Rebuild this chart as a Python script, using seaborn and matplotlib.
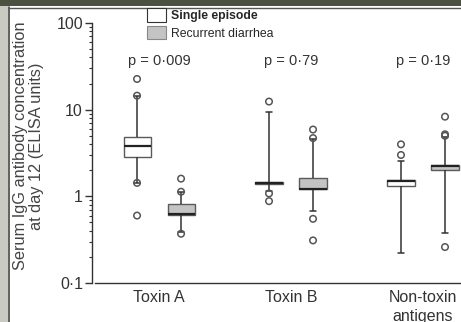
import numpy as np
import pandas as pd
import matplotlib
matplotlib.use("Agg")
import matplotlib.pyplot as plt
import matplotlib.ticker as mticker
from matplotlib.patches import Patch, Rectangle
from matplotlib.lines import Line2D
import seaborn as sns

# ---------------- data ----------------
categories = ["Toxin A", "Toxin B", "Non-toxin\nantigens"]
groups = ["Single episode", "Recurrent diarrhea"]
pvalues = ["p = 0·009", "p = 0·79", "p = 0·19"]

# five-number summaries per antigen: whisker low, Q1, median, Q3, whisker high
single_lo = [1.44, 1.15, 0.22]
single_q1 = [2.82, 1.37, 1.31]
single_med = [3.81, 1.41, 1.50]
single_q3 = [4.80, 1.45, 1.54]
single_hi = [14.3, 9.3, 2.58]

recur_lo = [0.385, 0.68, 0.38]
recur_q1 = [0.605, 1.20, 2.03]
recur_med = [0.63, 1.22, 2.22]
recur_q3 = [0.82, 1.63, 2.28]
recur_hi = [1.13, 4.6, 4.8]

# outliers per antigen
single_fliers = [[22.6, 14.5, 1.43, 0.60], [12.4, 1.08, 0.88], [3.98, 3.0]]
recur_fliers = [[1.60, 1.13, 0.37], [5.9, 4.7, 0.55, 0.31], [8.3, 5.2, 5.0, 0.26]]

yticks = [0.1, 1, 10, 100]
ytick_labels = ["0·1", "1", "10", "100"]

# ---------------- tables ----------------
rows = []
for grp, arrs in [(groups[0], (single_lo, single_q1, single_med, single_q3, single_hi)),
                  (groups[1], (recur_lo, recur_q1, recur_med, recur_q3, recur_hi))]:
    for i, cat in enumerate(categories):
        for arr in arrs:
            rows.append({"antigen": cat, "group": grp, "value": arr[i]})
df = pd.DataFrame(rows)

frows = []
for grp, fl in [(groups[0], single_fliers), (groups[1], recur_fliers)]:
    for i, cat in enumerate(categories):
        for v in fl[i]:
            frows.append({"antigen": cat, "group": grp, "value": v})
fdf = pd.DataFrame(frows)

# ---------------- style ----------------
sns.set_style("ticks")
plt.rcParams["font.family"] = ["Liberation Sans", "DejaVu Sans"]

W, H = 461, 322
fig = plt.figure(figsize=(W / 100, H / 100), dpi=100)
ax = fig.add_axes([92 / W, (H - 283) / H, (W - 92) / W, 260 / H])

BOX_W = 0.667
GAP = 0.385
EDGE = "#5a5a5a"
palette = {groups[0]: "white", groups[1]: "#c4c4c4"}

sns.boxplot(data=df, x="antigen", y="value", hue="group",
            order=categories, hue_order=groups, palette=palette,
            width=BOX_W, gap=GAP, whis=(0, 100), showfliers=False,
            saturation=1, linecolor=EDGE, linewidth=1.0, log_scale=True,
            medianprops=dict(color="#222222", linewidth=1.6),
            whiskerprops=dict(color="#333333", linewidth=1.1),
            capprops=dict(color="#333333", linewidth=1.1),
            capwidths=0.05, legend=False, ax=ax)

# outliers, placed at the dodged box positions
cat_idx = {c: i for i, c in enumerate(categories)}
offsets = {groups[0]: -BOX_W / 4, groups[1]: BOX_W / 4}
fdf["pos"] = [cat_idx[a] + offsets[g] for a, g in zip(fdf["antigen"], fdf["group"])]
sns.scatterplot(data=fdf, x="pos", y="value", marker="o", s=22,
                facecolor="none", edgecolor="#555555", linewidth=1.1,
                legend=False, ax=ax, zorder=5)

# ---------------- axes ----------------
ax.set_yscale("log")
ax.set_ylim(0.1, 100)
ax.set_xlim(-0.508, 2.288)
ax.set_xticks(range(len(categories)))
ax.set_xticklabels(categories, fontsize=11.5, color="#333333", linespacing=1.3)
ax.yaxis.set_major_locator(mticker.FixedLocator(yticks))
ax.yaxis.set_major_formatter(mticker.FixedFormatter(ytick_labels))
ax.yaxis.set_minor_locator(mticker.LogLocator(base=10, subs=np.arange(2, 10)))
ax.yaxis.set_minor_formatter(mticker.NullFormatter())
ax.tick_params(axis="y", which="major", length=5, width=1.0, pad=1.5,
               labelsize=11.5, colors="#333333")
ax.tick_params(axis="y", which="minor", length=2.5, width=0.8, colors="#333333")
ax.tick_params(axis="x", length=0, pad=5)
ax.set_xlabel("")
ax.set_ylabel("Serum IgG antibody concentration\nat day 12 (ELISA units)",
              fontsize=11.8, color="#444444", linespacing=1.05)
ax.yaxis.set_label_coords(-0.131, 0.527)
sns.despine(ax=ax)
for s in ["left", "bottom"]:
    ax.spines[s].set_color("#333333")
    ax.spines[s].set_linewidth(1.0)
ax.spines["bottom"].set_bounds(-0.485, 2.288)
ax.patch.set_alpha(0)

for i, p in enumerate(pvalues):
    ax.text(i, 0.854, p, transform=ax.get_xaxis_transform(), ha="center",
            va="center", fontsize=10.5, color="#333333")

# ---------------- legend ----------------
handles = [Patch(facecolor="white", edgecolor="#333333", linewidth=0.8),
           Patch(facecolor="#c4c4c4", edgecolor="#888888", linewidth=0.8)]
leg = fig.legend(handles, groups, loc="upper left",
                 bbox_to_anchor=(147 / W, 1 - 8 / H), frameon=False,
                 borderpad=0, borderaxespad=0, handlelength=1.55,
                 handleheight=1.35, handletextpad=0.4, labelspacing=0.3,
                 fontsize=8.8)
leg.get_texts()[0].set_fontweight("bold")

# ---------------- frame decoration ----------------
fig.patches.append(Rectangle((0, 1 - 6 / H), 1, 6 / H, transform=fig.transFigure,
                             facecolor="#4b5241", edgecolor="none", zorder=0))
fig.patches.append(Rectangle((0, 0), 8 / W, 1 - 6 / H, transform=fig.transFigure,
                             facecolor="#c9cbc2", edgecolor="none", zorder=0))
fig.lines.append(Line2D([9 / W, 9 / W], [0, 1 - 7 / H], transform=fig.transFigure,
                        color="#444444", linewidth=1.2))
fig.lines.append(Line2D([9 / W, 1], [1 - 7.5 / H, 1 - 7.5 / H],
                        transform=fig.transFigure, color="#555555", linewidth=1.0))

fig.savefig("out.png", dpi=100)
